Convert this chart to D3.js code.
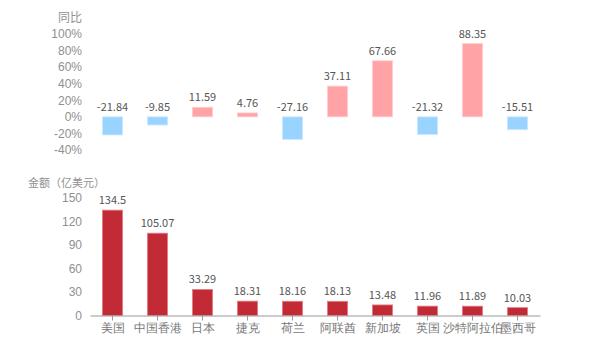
<!DOCTYPE html>
<html><head><meta charset="utf-8">
<script src="https://cdn.jsdelivr.net/npm/d3@7"></script>
<style>body{margin:0;background:#fff}svg{font-family:"Noto Sans CJK SC","Noto Sans",sans-serif}</style>
</head><body><svg id="c" width="600" height="350"></svg>
<script>
const categories = ["美国","中国香港","日本","捷克","荷兰","阿联酋","新加坡","英国","沙特阿拉伯","墨西哥"];
const yoy = [-21.84,-9.85,11.59,4.76,-27.16,37.11,67.66,-21.32,88.35,-15.51];
const amount = [134.5,105.07,33.29,18.31,18.16,18.13,13.48,11.96,11.89,10.03];
const yoyTicks = [-40,-20,0,20,40,60,80,100];
const amountTicks = [0,30,60,90,120,150];

const svg = d3.select("#c");
const x = d3.scaleBand().domain(categories).range([90,540]).paddingInner(0.55).paddingOuter(0.275);
const yTop = d3.scaleLinear().domain([-40,100]).range([150,34]);
const yBot = d3.scaleLinear().domain([0,150]).range([315.5,198]);

// top axis labels
const gTop = svg.append("g").attr("transform","translate(82,0)")
  .call(d3.axisLeft(yTop).tickValues(yoyTicks).tickFormat(d=>d+"%").tickSize(0).tickPadding(0));
gTop.select(".domain").remove();
gTop.selectAll("text").attr("fill","#909090").style("font-size","12px").style("font-family","inherit");
svg.append("text").attr("x",82).attr("y",22).attr("text-anchor","end").attr("fill","#909090").style("font-size","12px").text("同比");

svg.append("g").selectAll("rect").data(yoy).join("rect")
  .attr("x",(d,i)=>x(categories[i])).attr("width",x.bandwidth())
  .attr("y",d=>yTop(Math.max(0,d))).attr("height",d=>Math.abs(yTop(d)-yTop(0)))
  .attr("fill",d=>d>=0?"#ffa3a6":"#99d3ff")
  .attr("stroke",d=>d>=0?"#ffd0d2":"#cce9ff").attr("stroke-width",0.8);
svg.append("g").selectAll("text").data(yoy).join("text")
  .attr("x",(d,i)=>x(categories[i])+x.bandwidth()/2).attr("y",d=>yTop(Math.max(0,d))-6)
  .attr("text-anchor","middle").attr("fill","#555").style("font-size","11px").text(d=>d);

// bottom
const gBot = svg.append("g").attr("transform","translate(82,0)")
  .call(d3.axisLeft(yBot).tickValues(amountTicks).tickSize(0).tickPadding(0));
gBot.select(".domain").remove();
gBot.selectAll("text").attr("fill","#909090").style("font-size","12px").style("font-family","inherit");
svg.append("text").attr("x",28).attr("y",187).attr("fill","#909090").style("font-size","11px").text("金额（亿美元）");

svg.append("g").selectAll("rect").data(amount).join("rect")
  .attr("x",(d,i)=>x(categories[i])).attr("width",x.bandwidth())
  .attr("y",d=>yBot(d)).attr("height",d=>yBot(0)-yBot(d))
  .attr("fill","#c22b35").attr("stroke","#e08088").attr("stroke-width",0.8);
svg.append("g").selectAll("text").data(amount).join("text")
  .attr("x",(d,i)=>x(categories[i])+x.bandwidth()/2).attr("y",d=>yBot(d)-6)
  .attr("text-anchor","middle").attr("fill","#555").style("font-size","11px").text(d=>d);

const gx = svg.append("g").attr("transform",`translate(0,${yBot(0)})`)
  .call(d3.axisBottom(x).tickSize(5).tickSizeOuter(0).tickPadding(3));
gx.select(".domain").attr("stroke","#999");
gx.selectAll(".tick line").attr("stroke","#999");
gx.selectAll("text").attr("fill","#777").style("font-size","12px").style("font-family","inherit");
</script></body></html>
